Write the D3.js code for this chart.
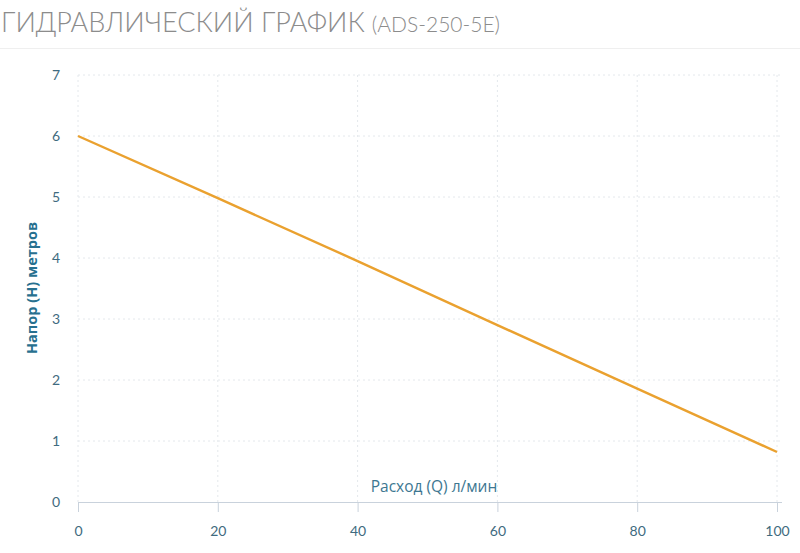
<!DOCTYPE html>
<html><head><meta charset="utf-8">
<script src="https://cdn.jsdelivr.net/npm/d3@7"></script>
<style>
body{margin:0;background:#fff;}
svg{display:block;}
</style></head>
<body>
<svg id="c" width="800" height="553"></svg>
<script>
const flowQ = [0, 20, 40, 60, 80, 100];
const headH = [6, 4.98, 3.95, 2.9, 1.86, 0.82];
const xTicks = [0, 20, 40, 60, 80, 100];
const yTicks = [0, 1, 2, 3, 4, 5, 6, 7];
const titleMain = "ГИДРАВЛИЧЕСКИЙ ГРАФИК";
const titleModel = "(ADS-250-5E)";
const xLabel = "Расход (Q) л/мин";
const yLabel = "Напор (H) метров";

const svg = d3.select("#c");
const x = d3.scaleLinear().domain([0,100]).range([78,777]);
const y = d3.scaleLinear().domain([0,7]).range([502,75]);

// title
const t = svg.append("text").attr("x",1).attr("y",32)
  .attr("font-family","Lato, 'Open Sans', sans-serif").attr("fill","#8c8c8c").attr("font-weight",300);
t.append("tspan").attr("font-size",27).text(titleMain);
t.append("tspan").attr("font-size",21).attr("dx",7).text(titleModel);
svg.append("line").attr("x1",0).attr("x2",800).attr("y1",48.5).attr("y2",48.5)
  .attr("stroke","#efefef").attr("stroke-width",1);

// grid
const g = svg.append("g");
g.selectAll(".vg").data(xTicks).join("line")
  .attr("x1",d=>x(d)).attr("x2",d=>x(d)).attr("y1",y(7)).attr("y2",y(0))
  .attr("stroke","#e4e8ec").attr("stroke-dasharray","2,3");
g.selectAll(".hg").data(yTicks.filter(d=>d>0)).join("line")
  .attr("x1",x(0)).attr("x2",782).attr("y1",d=>y(d)).attr("y2",d=>y(d))
  .attr("stroke","#e4e8ec").attr("stroke-dasharray","2,3");

// x axis
const xa = svg.append("g").attr("transform",`translate(0,${y(0)})`)
  .call(d3.axisBottom(x).tickValues(xTicks).tickFormat(d3.format("d")).tickSize(10).tickSizeOuter(0).tickPadding(14));
xa.select(".domain").attr("stroke","#c9d2dc").attr("d",`M${x(0)},0.5H782`);
xa.selectAll(".tick line").attr("stroke","#c9d2dc");
xa.selectAll(".tick text").attr("fill","#3f6b80").attr("font-size",14)
  .attr("font-family","Lato, 'Open Sans', sans-serif");

// y axis
const ya = svg.append("g").attr("transform",`translate(${x(0)},0)`)
  .call(d3.axisLeft(y).tickValues(yTicks).tickFormat(d3.format("d")).tickSize(0).tickPadding(18));
ya.select(".domain").remove();
ya.selectAll(".tick text").attr("fill","#3f6b80").attr("font-size",14)
  .attr("font-family","Lato, 'Open Sans', sans-serif");

// axis labels
svg.append("text").attr("x",434).attr("y",492).attr("text-anchor","middle")
  .attr("fill","#3d7791").attr("font-size",15.5).attr("font-family","'Open Sans', sans-serif")
  .text(xLabel);
svg.append("text").attr("transform","translate(37,288) rotate(-90)").attr("text-anchor","middle")
  .attr("fill","#27708f").attr("font-size",14.5).attr("font-weight","bold")
  .attr("font-family","'Open Sans', sans-serif").text(yLabel);

// line
const data = flowQ.map((q,i)=>({q, h:headH[i]}));
svg.append("path").datum(data)
  .attr("fill","none").attr("stroke","#eaa12f").attr("stroke-width",2.4)
  .attr("d", d3.line().x(d=>x(d.q)).y(d=>y(d.h)));
</script>
</body></html>
